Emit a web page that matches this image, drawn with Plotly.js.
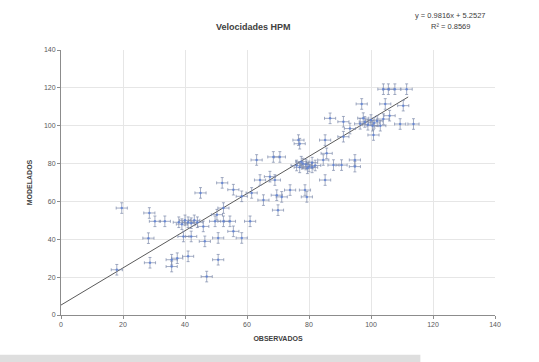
<!DOCTYPE html>
<html>
<head>
<meta charset="utf-8">
<script src="https://cdn.plot.ly/plotly-3.0.1.min.js"></script>
<style>html,body{margin:0;padding:0;background:#fff;}#chart{width:539px;height:362px;}</style>
</head>
<body>
<div id="chart"></div>
<script>
// Observed (x) vs modelled (y) speeds
const observados = [19.6, 18, 28.5, 28.2, 28.7, 30.3, 33.5, 35.7, 37.5, 41, 35.7,
  38, 39, 40, 41, 42, 43, 44, 39.5, 42, 45.9, 46.4, 47, 50.7, 50.7, 49.7, 52.4, 54.5,
  55.6, 58.3, 61, 52.4, 50.3, 52, 45, 55.6, 58.3, 61.5, 63.1, 64.2, 65.3, 67.4, 69,
  69.6, 70, 71.2, 73.9, 68.5, 70.6, 76.6, 77, 78.7, 79.3,
  76, 77, 78, 79, 80, 81, 82, 77.5, 79.5, 81,
  84.6, 85.2, 85.7, 87.9, 90.5, 94.8, 94.8, 85.2, 86.8, 91.1, 91.1, 93.2,
  96.5, 98, 99, 100, 101, 102, 103, 104, 97.5, 100.5,
  97, 100.8, 104.6, 104, 105.6, 107.7, 111.5, 110.4, 109.4, 113.7, 106];
const modelados = [56.5, 23.9, 53.9, 40.6, 27.6, 49.5, 49.5, 29.2, 30, 31, 25.6,
  49, 48, 50, 49, 48.5, 50, 49, 41.5, 41.5, 46.8, 38.9, 20.3, 29.2, 40.7, 49.5, 49.5, 49.5,
  44.2, 40.7, 49.5, 56.5, 53, 69.8, 64.5, 66.2, 62.7, 64.5, 81.9, 71.3, 60.7, 73.1, 71.3,
  63.3, 55.4, 62.4, 66, 83.5, 83.5, 92.4, 90.5, 66, 62.4,
  79, 78, 80, 79.5, 78.5, 80.5, 79, 81, 77.5, 78,
  81.9, 71.3, 85.4, 79.2, 79.2, 81.9, 78.4, 92.4, 103.9, 102.1, 94.2, 98.5,
  101, 102, 100.5, 103, 101.5, 102.5, 100, 103.5, 104, 100,
  111.5, 95.1, 111.5, 119.3, 119.3, 119.3, 119.3, 110.6, 100.9, 100.9, 105.3];
const errObs = 1.8;
const errMod = 2.8;
const slope = 0.9816, intercept = 5.2527, r2 = 0.8569;
const trendX = [0, 112];
const trendY = trendX.map(v => slope * v + intercept);
const xTicks = [0, 20, 40, 60, 80, 100, 120, 140];
const yTicks = [0, 20, 40, 60, 80, 100, 120, 140];

const traces = [
  {
    x: trendX, y: trendY, mode: 'lines', type: 'scatter',
    line: {color: '#5a5a5a', width: 1}, hoverinfo: 'skip'
  },
  {
    x: observados, y: modelados, mode: 'markers', type: 'scatter',
    marker: {color: '#5b7fd6', size: 2.5, symbol: 'circle', opacity: 0.8},
    error_x: {type: 'constant', value: errObs, color: '#7c8aab', thickness: 0.7, width: 1.5},
    error_y: {type: 'constant', value: errMod, color: '#7c8aab', thickness: 0.7, width: 1.5}
  }
];

const tickFont = {family: 'Liberation Sans, Arial, sans-serif', size: 7, color: '#595959'};
const layout = {
  width: 539, height: 362,
  margin: {l: 61, r: 44, t: 50, b: 47},
  paper_bgcolor: '#ffffff', plot_bgcolor: '#ffffff',
  showlegend: false,
  title: {text: '<b>Velocidades HPM</b>', x: 0.47, xanchor: 'center', y: 0.925, yanchor: 'middle',
    font: {family: 'Liberation Sans, Arial, sans-serif', size: 9, color: '#404040'}},
  xaxis: {
    range: [0, 140], tickvals: xTicks, ticktext: xTicks.map(String),
    showgrid: true, gridcolor: '#e6e6e6', gridwidth: 1,
    showline: true, linecolor: '#8c8c8c', linewidth: 1,
    ticks: 'outside', ticklen: 3, tickcolor: '#8c8c8c',
    zeroline: false, tickfont: tickFont,
    title: {text: '<b>OBSERVADOS</b>', standoff: 8,
      font: {family: 'Liberation Sans, Arial, sans-serif', size: 7, color: '#404040'}}
  },
  yaxis: {
    range: [0, 140], tickvals: yTicks, ticktext: yTicks.map(String),
    showgrid: true, gridcolor: '#e6e6e6', gridwidth: 1,
    showline: true, linecolor: '#8c8c8c', linewidth: 1,
    ticks: 'outside', ticklen: 3, tickcolor: '#8c8c8c',
    zeroline: false, tickfont: tickFont,
    title: {text: '<b>MODELADOS</b>', standoff: 10,
      font: {family: 'Liberation Sans, Arial, sans-serif', size: 7, color: '#404040'}}
  },
  annotations: [
    {xref: 'paper', yref: 'paper', x: 0.897, y: 1.132, xanchor: 'center', yanchor: 'middle', showarrow: false,
     text: 'y = ' + slope + 'x + ' + intercept,
     font: {family: 'Liberation Sans, Arial, sans-serif', size: 7.5, color: '#404040'}},
    {xref: 'paper', yref: 'paper', x: 0.897, y: 1.087, xanchor: 'center', yanchor: 'middle', showarrow: false,
     text: 'R² = ' + r2,
     font: {family: 'Liberation Sans, Arial, sans-serif', size: 7.5, color: '#404040'}}
  ],
  shapes: [
    {type: 'rect', xref: 'paper', yref: 'paper', x0: -0.141, x1: 0.828, y0: -0.15, y1: -0.177,
     fillcolor: '#dedede', line: {width: 0}, layer: 'above'}
  ]
};

Plotly.newPlot('chart', traces, layout, {staticPlot: true, displayModeBar: false});
</script>
</body>
</html>
